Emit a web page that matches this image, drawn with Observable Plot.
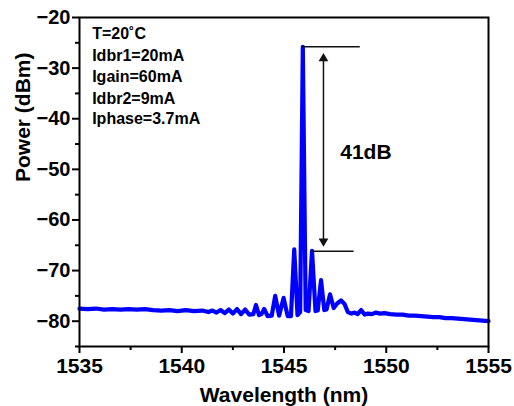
<!DOCTYPE html>
<html>
<head>
<meta charset="utf-8">
<script src="https://cdn.jsdelivr.net/npm/d3@7"></script>
<script src="https://cdn.jsdelivr.net/npm/@observablehq/plot@0.6"></script>
<style>
  html, body { margin: 0; padding: 0; background: white; }
</style>
</head>
<body>
<div id="chart"></div>
<script>
// Spectrum (wavelength nm, power dBm)
const wavelength = [
  1535.0, 1535.4, 1535.8, 1536.2, 1536.6, 1537.0, 1537.4, 1537.8, 1538.2, 1538.6,
  1539.0, 1539.4, 1539.8, 1540.2, 1540.6, 1541.0, 1541.3, 1541.5, 1541.7, 1541.9,
  1542.1, 1542.3, 1542.5, 1542.7, 1542.9, 1543.1, 1543.3, 1543.5, 1543.63, 1543.78,
  1543.9, 1544.03, 1544.2, 1544.4, 1544.57, 1544.76, 1544.98, 1545.18, 1545.34, 1545.5,
  1545.66, 1545.79, 1545.92, 1546.06, 1546.2, 1546.37, 1546.54, 1546.65, 1546.81, 1546.97,
  1547.08, 1547.25, 1547.43, 1547.6, 1547.79, 1547.96, 1548.12, 1548.3, 1548.45, 1548.6,
  1548.77, 1548.95, 1549.1, 1549.3, 1549.5, 1549.7, 1549.9, 1550.2, 1550.5, 1550.8,
  1551.1, 1551.4, 1551.7, 1552.0, 1552.3, 1552.6, 1552.9, 1553.2, 1553.5, 1553.8,
  1554.1, 1554.4, 1554.7, 1555.0
];
const power = [
  -77.5, -77.6, -77.5, -77.7, -77.6, -77.7, -77.6, -77.7, -77.6, -77.8,
  -77.9, -77.8, -78.0, -77.8, -78.0, -77.9, -78.2, -77.9, -78.3, -77.8,
  -78.4, -77.7, -78.5, -77.6, -78.6, -77.7, -78.7, -78.6, -76.8, -78.8,
  -78.6, -77.6, -79.0, -78.9, -75.0, -78.9, -75.4, -79.0, -79.0, -65.8,
  -78.8, -78.2, -25.8, -77.8, -78.0, -66.1, -78.0, -77.9, -71.9, -77.8,
  -77.7, -74.7, -77.4, -76.5, -75.9, -76.6, -78.2, -78.5, -78.3, -78.6,
  -77.8, -78.7, -78.5, -78.6, -78.3, -78.5, -78.4, -78.6, -78.7, -78.7,
  -78.9, -78.9, -79.0, -79.1, -79.2, -79.2, -79.4, -79.4, -79.5, -79.6,
  -79.7, -79.8, -79.9, -80.0
];

// Axis ticks
const xTicks = [1535, 1540, 1545, 1550, 1555];
const xMinorTicks = [1537.5, 1542.5, 1547.5, 1552.5];
const yTicks = [-20, -30, -40, -50, -60, -70, -80];
const yMinorTicks = [-25, -35, -45, -55, -65, -75, -85];

// Text
const xTitle = "Wavelength (nm)";
const yTitle = "Power (dBm)";
const infoLines = ["T=20˚C", "Idbr1=20mA", "Igain=60mA", "Idbr2=9mA", "Iphase=3.7mA"];
const infoY = [-23.2, -27.5, -31.8, -36.0, -40.0];
const infoX = 1535.62;

// Annotation (41 dB side-mode suppression)
const peakWavelength = 1545.92;
const peakPower = -25.8;
const sideWavelength = 1546.37;
const sidePower = -66.2;
const topRuleEnd = 1548.73;
const bottomRuleEnd = 1548.43;
const arrowX = 1546.93;
const arrowHeads = [-28.1, -64.2];
const arrowRotate = [0, 180];
const smsrLabel = "41dB";
const smsrLabelX = 1547.75;
const smsrLabelY = -46.7;

const data = wavelength.map((w, i) => ({w, p: power[i]}));
const info = infoLines.map((t, i) => ({t, y: infoY[i]}));
const heads = arrowHeads.map((y, i) => ({y, r: arrowRotate[i]}));

const font = "'Liberation Sans', Arial, Helvetica, sans-serif";

const chart = Plot.plot({
  width: 514,
  height: 406,
  marginLeft: 79,
  marginRight: 26,
  marginTop: 17,
  marginBottom: 60,
  style: {fontFamily: font, fontWeight: "bold", background: "white", color: "black", overflow: "visible"},
  x: {domain: [1535, 1555]},
  y: {domain: [-85, -20]},
  marks: [
    Plot.line(data, {x: "w", y: "p", stroke: "#0000ff", strokeWidth: 4.2, strokeLinejoin: "round"}),
    Plot.ruleY([peakPower], {x1: peakWavelength, x2: topRuleEnd, stroke: "#111", strokeWidth: 1.5}),
    Plot.ruleY([sidePower], {x1: sideWavelength, x2: bottomRuleEnd, stroke: "#111", strokeWidth: 1.5}),
    Plot.ruleX([arrowX], {y1: arrowHeads[0], y2: arrowHeads[1], stroke: "#111", strokeWidth: 1.5}),
    Plot.dot(heads, {x: () => arrowX, y: "y", rotate: "r", symbol: "triangle", r: 3.6, fill: "#111", stroke: "none"}),
    Plot.text([smsrLabel], {x: smsrLabelX, y: smsrLabelY, textAnchor: "start", fontSize: 21, fontWeight: "bold", fill: "black"}),
    Plot.text(info, {x: () => infoX, y: "y", text: "t", textAnchor: "start", fontSize: 16, fontWeight: "bold", fill: "black"}),
    Plot.frame({stroke: "black", strokeWidth: 2}),
    Plot.axisX(xTicks, {tickSize: 7, tickPadding: 5, fontSize: 21, strokeWidth: 2, label: null, tickFormat: d => String(d)}),
    Plot.axisX(xMinorTicks, {tickSize: 4, strokeWidth: 2, label: null, tickFormat: () => ""}),
    Plot.axisY(yTicks, {tickSize: 7, tickPadding: 2, fontSize: 20, strokeWidth: 2, label: null, tickFormat: d => (d < 0 ? "\u2212" : "") + Math.abs(d)}),
    Plot.axisY(yMinorTicks, {tickSize: 4, strokeWidth: 2, label: null, tickFormat: () => ""}),
    Plot.text([xTitle], {frameAnchor: "bottom", dy: 55, fontSize: 21, fontWeight: "bold", fill: "black"}),
    Plot.text([yTitle], {frameAnchor: "left", dx: -56, rotate: -90, fontSize: 21, fontWeight: "bold", fill: "black"})
  ]
});
document.getElementById("chart").appendChild(chart);
</script>
</body>
</html>
